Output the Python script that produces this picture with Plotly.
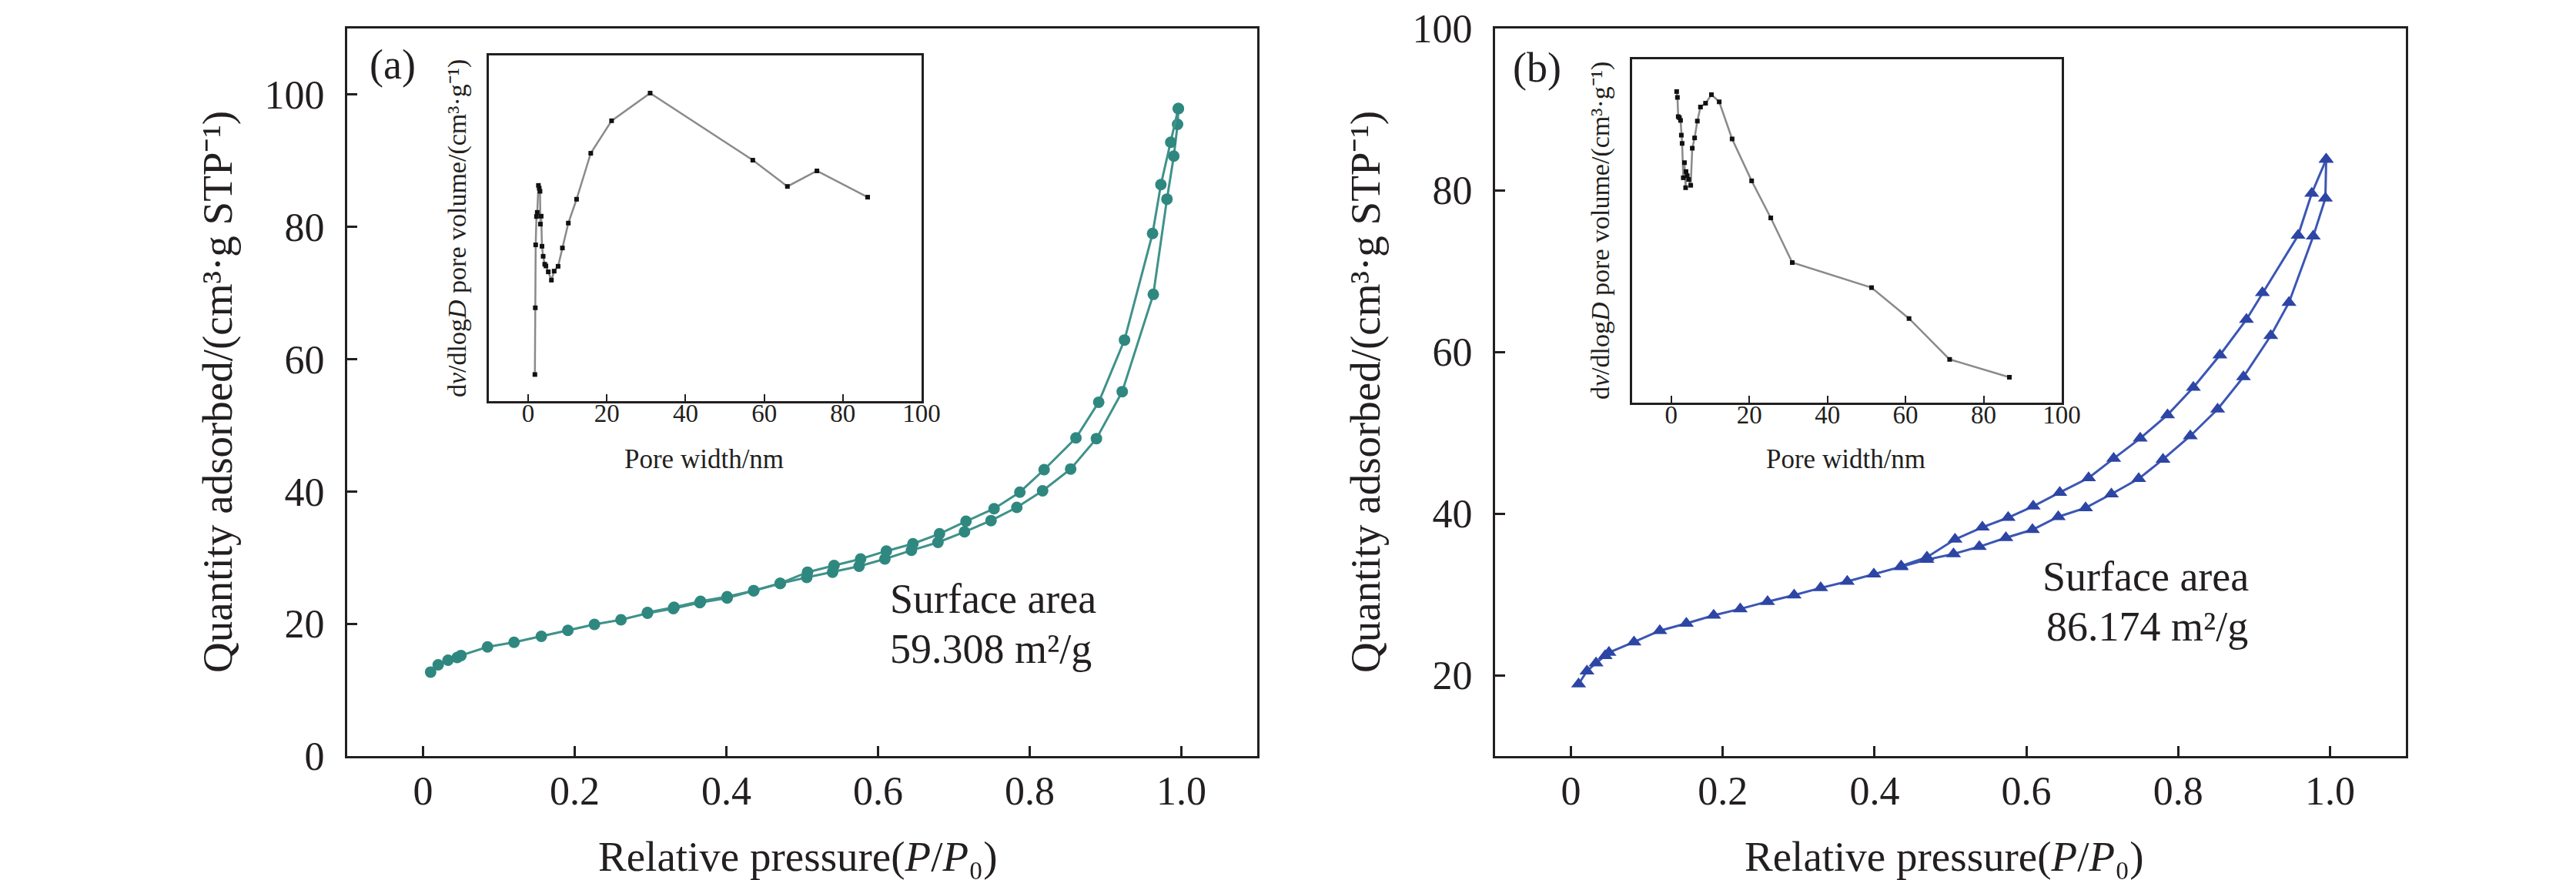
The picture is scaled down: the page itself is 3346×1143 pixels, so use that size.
import plotly.graph_objects as go

# ---- panel (a) isotherm ----
ads_p_a = [0.010, 0.020, 0.033, 0.045, 0.050, 0.085, 0.120, 0.156, 0.191, 0.226, 0.261, 0.296,
           0.330, 0.365, 0.401, 0.436, 0.471, 0.506, 0.540, 0.575, 0.609, 0.644, 0.679, 0.714,
           0.749, 0.783, 0.817, 0.854, 0.888, 0.922, 0.963, 0.981, 0.990, 0.995, 0.996]
ads_q_a = [12.7, 13.8, 14.5, 14.9, 15.2, 16.5, 17.2, 18.1, 19.0, 19.9, 20.6, 21.6,
           22.3, 23.2, 23.9, 25.0, 26.1, 27.0, 27.8, 28.7, 29.8, 31.1, 32.3, 33.9,
           35.6, 37.6, 40.1, 43.4, 48.0, 55.1, 69.8, 84.2, 90.7, 95.5, 97.9]
des_p_a = [0.996, 0.986, 0.973, 0.962, 0.925, 0.891, 0.861, 0.819, 0.787, 0.753, 0.716, 0.681,
           0.646, 0.611, 0.577, 0.542, 0.507, 0.471, 0.436, 0.401, 0.366, 0.331, 0.296]
des_q_a = [97.9, 92.8, 86.4, 79.0, 62.9, 53.5, 48.1, 43.3, 39.9, 37.4, 35.5, 33.6,
           32.1, 31.0, 29.8, 28.8, 27.8, 26.1, 25.0, 24.1, 23.4, 22.5, 21.7]

# ---- panel (b) isotherm ----
ads_p_b = [0.010, 0.021, 0.033, 0.045, 0.050, 0.083, 0.117, 0.152, 0.188, 0.223, 0.259, 0.294,
           0.329, 0.364, 0.399, 0.435, 0.469, 0.504, 0.538, 0.573, 0.608, 0.642, 0.678, 0.712,
           0.748, 0.780, 0.816, 0.852, 0.886, 0.922, 0.946, 0.978, 0.994, 0.995]
ads_q_b = [18.9, 20.5, 21.5, 22.4, 22.8, 24.1, 25.5, 26.4, 27.4, 28.2, 29.1, 29.9,
           30.8, 31.6, 32.5, 33.4, 34.3, 35.0, 35.9, 37.0, 38.0, 39.6, 40.7, 42.4,
           44.3, 46.7, 49.6, 52.9, 56.9, 62.0, 66.1, 74.3, 79.0, 83.8]
des_p_b = [0.995, 0.976, 0.958, 0.911, 0.890, 0.855, 0.820, 0.786, 0.750, 0.715, 0.682, 0.644,
           0.609, 0.576, 0.542, 0.506, 0.469, 0.435]
des_q_b = [83.8, 79.6, 74.4, 67.3, 64.0, 59.6, 55.6, 52.2, 49.3, 46.8, 44.4, 42.6,
           40.9, 39.5, 38.3, 36.8, 34.6, 33.5]

# ---- insets: pore size distribution (y axis has no scale, relative units) ----
pore_w_a = [1.7, 1.8, 1.9, 2.1, 2.3, 2.6, 2.8, 3.0, 3.1, 3.3, 3.5, 3.8, 4.2, 4.5, 5.1, 5.9,
            6.6, 7.6, 8.7, 10.2, 12.3, 15.9, 21.2, 31.0, 57.1, 65.9, 73.4, 86.3]
pore_v_a = [7.7, 27.0, 45.2, 53.4, 54.6, 62.4, 61.6, 60.7, 51.2, 53.5, 44.8, 41.9, 39.6, 39.1,
            37.4, 35.0, 37.6, 39.0, 44.3, 51.5, 58.4, 71.7, 81.1, 89.1, 69.7, 62.1, 66.6, 59.0]
pore_w_b = [1.4, 1.6, 1.8, 2.1, 2.4, 2.6, 2.8, 3.1, 3.4, 3.7, 3.8, 4.1, 4.5, 5.0, 5.4, 6.0,
            6.7, 7.5, 8.8, 10.3, 12.3, 15.6, 20.6, 25.5, 31.0, 51.3, 60.9, 71.3, 86.6]
pore_v_b = [90.6, 88.9, 83.3, 83.0, 82.2, 77.9, 75.5, 65.5, 69.9, 62.6, 67.3, 66.1, 65.0, 63.3,
            74.1, 77.1, 82.0, 86.1, 87.2, 89.7, 87.6, 76.8, 64.6, 53.8, 40.8, 33.5, 24.5, 12.6, 7.4]

main_xticks = [0, 0.2, 0.4, 0.6, 0.8, 1.0]
main_xlabels = ["0", "0.2", "0.4", "0.6", "0.8", "1.0"]
inset_xticks = [0, 20, 40, 60, 80, 100]

W, H = 3346, 1143
FONT = "Liberation Serif"
INK = "#231f20"
teal_line, teal_mark = "#3f928a", "#2f8880"
blue_line, blue_mark = "#3b56b4", "#2d45a4"


def px(x):
  return x / W


def py(y):
  return 1 - y / H


fig = go.Figure()

# panel (a)
for p, q in [(ads_p_a, ads_q_a), (des_p_a, des_q_a)]:
  fig.add_trace(go.Scatter(x=p, y=q, mode="lines+markers", xaxis="x", yaxis="y",
                           line=dict(color=teal_line, width=3),
                           marker=dict(symbol="circle", size=15, color=teal_mark)))
fig.add_trace(go.Scatter(x=pore_w_a, y=pore_v_a, mode="lines+markers", xaxis="x2", yaxis="y2",
                         line=dict(color="#8a8a8a", width=2.5),
                         marker=dict(symbol="square", size=6, color="#111111")))
# panel (b)
for p, q in [(ads_p_b, ads_q_b), (des_p_b, des_q_b)]:
  fig.add_trace(go.Scatter(x=p, y=q, mode="lines+markers", xaxis="x3", yaxis="y3",
                           line=dict(color=blue_line, width=3),
                           marker=dict(symbol="triangle-up", size=17, color=blue_mark)))
fig.add_trace(go.Scatter(x=pore_w_b, y=pore_v_b, mode="lines+markers", xaxis="x4", yaxis="y4",
                         line=dict(color="#8a8a8a", width=2.5),
                         marker=dict(symbol="square", size=6, color="#111111")))

main_x = dict(range=[-0.1, 1.1], tickvals=main_xticks, ticktext=main_xlabels, ticks="inside",
              ticklen=13, tickwidth=3, tickcolor=INK, showline=True, linecolor=INK, linewidth=3,
              mirror=True, showgrid=False, zeroline=False, automargin=False, ticklabelstandoff=-2,
              tickfont=dict(family=FONT, size=52, color=INK))
main_y = dict(ticks="inside", ticklen=13, tickwidth=3, tickcolor=INK, showline=True, linecolor=INK,
              linewidth=3, mirror=True, showgrid=False, zeroline=False, automargin=False,
              ticklabelstandoff=16, tickfont=dict(family=FONT, size=52, color=INK))
inset_x = dict(range=[-10, 100], tickvals=inset_xticks, ticks="inside", ticklen=9, tickwidth=2,
               tickcolor=INK, showline=True, linecolor=INK, linewidth=2.5, mirror=True,
               showgrid=False, zeroline=False, automargin=False, ticklabelstandoff=-15,
               tickfont=dict(family=FONT, size=33, color=INK))
inset_y = dict(range=[0, 100], showticklabels=False, ticks="", showline=True, linecolor=INK,
               linewidth=2.5, mirror=True, showgrid=False, zeroline=False, automargin=False)

fig.update_layout(
  width=W, height=H, showlegend=False,
  margin=dict(l=0, r=0, t=0, b=0),
  paper_bgcolor="white", plot_bgcolor="white",
  xaxis=dict(main_x, domain=[px(443), px(1625)], anchor="y"),
  yaxis=dict(main_y, domain=[py(974), py(29)], anchor="x", range=[0, 110],
             tickvals=[0, 20, 40, 60, 80, 100]),
  xaxis2=dict(inset_x, domain=[px(627), px(1189)], anchor="y2"),
  yaxis2=dict(inset_y, domain=[py(513), py(64)], anchor="x2"),
  xaxis3=dict(main_x, domain=[px(1934), px(3117)], anchor="y3"),
  yaxis3=dict(main_y, domain=[py(974), py(29)], anchor="x3", range=[10, 100],
              tickvals=[20, 40, 60, 80, 100]),
  xaxis4=dict(inset_x, domain=[px(2112), px(2670)], anchor="y4"),
  yaxis4=dict(inset_y, domain=[py(515), py(69)], anchor="x4"),
)

ytitle = "Quantity adsorbed/(cm³·g STP⁻¹)"
xtitle = "Relative pressure(<i>P</i>/<i>P</i>₀)"
ititle_y = "d<i>v</i>/dlog<i>D</i> pore volume/(cm³·g⁻¹)"
ititle_x = "Pore width/nm"

texts = [
  # text, x px, y px, size, angle, xanchor
  (ytitle, 274, 501, 55, -90, "center"),
  (ytitle, 1765, 501, 55, -90, "center"),
  (xtitle, 1028, 1104, 55, 0, "center"),
  (xtitle, 2517, 1104, 55, 0, "center"),
  ("(a)", 502, 76, 54, 0, "center"),
  ("(b)", 1989, 80, 54, 0, "center"),
  ("Surface area", 1146, 770, 54, 0, "left"),
  ("59.308 m²/g", 1146, 835, 54, 0, "left"),
  ("Surface area", 2643, 741, 54, 0, "left"),
  ("86.174 m²/g", 2648, 806, 54, 0, "left"),
  (ititle_y, 586, 289, 34, -90, "center"),
  (ititle_y, 2071, 292, 34, -90, "center"),
  (ititle_x, 906, 588, 35, 0, "center"),
  (ititle_x, 2389, 588, 35, 0, "center"),
]
for t, x, y, s, a, xa in texts:
  fig.add_annotation(text=t, x=px(x), y=py(y), xref="paper", yref="paper", showarrow=False,
                     textangle=a, xanchor=xa, yanchor="middle",
                     font=dict(family=FONT, size=s, color=INK))

fig.write_html("out.html")
